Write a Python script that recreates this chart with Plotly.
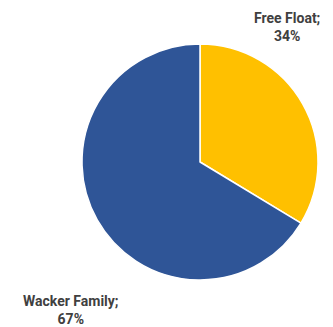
import plotly.graph_objects as go

# Shareholder structure
labels = ["Free Float", "Wacker Family"]
shares = [34, 67]
colors = ["#FFC000", "#2F5597"]

# Label anchor positions (paper coordinates) for each slice's caption
label_x = [0.861, 0.213]
label_y = [0.916, 0.053]

W, H = 333, 327

fig = go.Figure(
    go.Pie(
        labels=labels,
        values=shares,
        sort=False,
        direction="clockwise",
        rotation=0,
        marker=dict(colors=colors, line=dict(color="white", width=1.5)),
        textinfo="none",
        hoverinfo="label+value",
        showlegend=False,
        domain=dict(x=[82 / W, 318 / W], y=[1 - 280 / H, 1 - 44 / H]),
    )
)

for name, val, x, y in zip(labels, shares, label_x, label_y):
    fig.add_annotation(
        x=x, y=y, xref="paper", yref="paper",
        xanchor="center", yanchor="middle",
        text=f"<b>{name};<br>{val}%</b>",
        showarrow=False,
        align="center",
        font=dict(family="Roboto", size=14, color="#404040"),
    )

fig.update_layout(
    width=W, height=H,
    margin=dict(l=0, r=0, t=0, b=0),
    paper_bgcolor="white",
    plot_bgcolor="white",
)

fig.write_html("out.html")
